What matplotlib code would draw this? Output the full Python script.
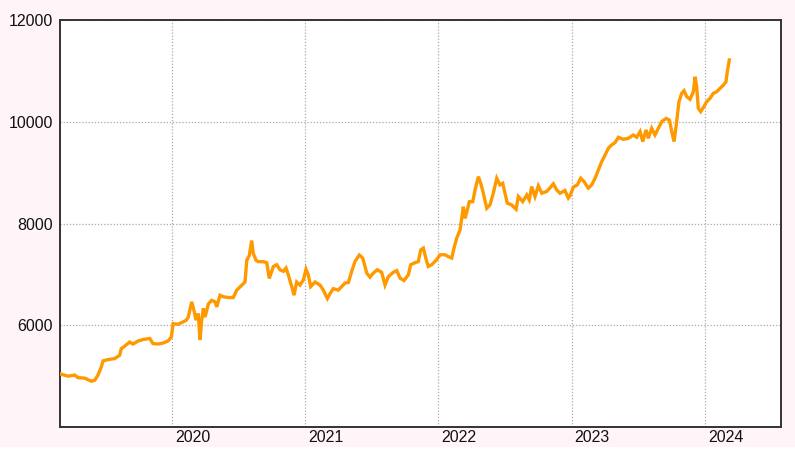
import matplotlib
matplotlib.use("Agg")
import matplotlib.pyplot as plt
import matplotlib.transforms as mtransforms

# time in decimal years
t = [2019.169, 2019.219, 2019.270, 2019.294, 2019.345, 2019.394, 2019.420, 2019.444,
     2019.469, 2019.482, 2019.520, 2019.570, 2019.607, 2019.619, 2019.645, 2019.682,
     2019.707, 2019.745, 2019.782, 2019.833, 2019.857, 2019.895, 2019.932, 2019.970,
     2019.995, 2020.008, 2020.045, 2020.083, 2020.107,
     2020.122, 2020.148, 2020.165, 2020.180, 2020.197, 2020.210, 2020.223, 2020.235,
     2020.248, 2020.273, 2020.298, 2020.323, 2020.336, 2020.360, 2020.385, 2020.423,
     2020.460, 2020.486, 2020.523, 2020.548, 2020.561, 2020.580, 2020.598, 2020.610,
     2020.631, 2020.648, 2020.685, 2020.711, 2020.730, 2020.761, 2020.786, 2020.811,
     2020.836, 2020.856, 2020.873, 2020.899,
     2020.916, 2020.936, 2020.961, 2020.986, 2021.006, 2021.023, 2021.041, 2021.074,
     2021.111, 2021.136, 2021.166, 2021.186, 2021.211, 2021.248, 2021.274, 2021.299,
     2021.324, 2021.349, 2021.374, 2021.406, 2021.432, 2021.462, 2021.486, 2021.511,
     2021.541, 2021.574, 2021.599, 2021.624, 2021.661, 2021.687, 2021.712, 2021.742,
     2021.774, 2021.792, 2021.824, 2021.849, 2021.867, 2021.887, 2021.907, 2021.924,
     2021.950, 2021.987,
     2022.012, 2022.050, 2022.074, 2022.100, 2022.117, 2022.137, 2022.162, 2022.175,
     2022.187, 2022.200, 2022.217, 2022.232, 2022.258, 2022.275, 2022.300, 2022.318,
     2022.337, 2022.363, 2022.387, 2022.412, 2022.438, 2022.462, 2022.483, 2022.500,
     2022.517, 2022.550, 2022.583, 2022.600, 2022.633, 2022.663, 2022.682, 2022.700,
     2022.725, 2022.750, 2022.776, 2022.813, 2022.838, 2022.863, 2022.888, 2022.913,
     2022.950, 2022.975,
     2022.988, 2023.013, 2023.043, 2023.068, 2023.093, 2023.125, 2023.151, 2023.176,
     2023.201, 2023.226, 2023.251, 2023.276, 2023.301, 2023.326, 2023.351, 2023.388,
     2023.426, 2023.463, 2023.489, 2023.514, 2023.534, 2023.559, 2023.576, 2023.601,
     2023.626, 2023.651, 2023.676, 2023.709, 2023.734, 2023.752, 2023.769, 2023.784,
     2023.794, 2023.806, 2023.827, 2023.844, 2023.864, 2023.889, 2023.914, 2023.927,
     2023.939, 2023.951, 2023.969, 2023.994, 2024.014, 2024.039, 2024.064, 2024.089,
     2024.114, 2024.139, 2024.159, 2024.169, 2024.184]

price = [5037, 5000, 5020, 4970, 4960, 4900, 4920, 5020,
         5180, 5300, 5325, 5345, 5410, 5540, 5590, 5670,
         5630, 5690, 5720, 5740, 5640, 5630, 5650, 5690,
         5770, 6030, 6020, 6065, 6100,
         6160, 6460, 6290, 6100, 6230, 5710, 6100, 6330,
         6160, 6420, 6490, 6460, 6360, 6590, 6560, 6545,
         6545, 6690, 6785, 6850, 7275, 7370, 7665, 7410,
         7275, 7250, 7250, 7230, 6920, 7155, 7190, 7090,
         7060, 7125, 6990, 6760,
         6590, 6850, 6790, 6890, 7100, 6990, 6760, 6850,
         6790, 6690, 6525, 6620, 6720, 6690, 6760, 6830,
         6840, 7060, 7255, 7380, 7320, 7025, 6945, 7025,
         7090, 7040, 6790, 6955, 7040, 7075, 6925, 6880,
         6990, 7190, 7230, 7250, 7480, 7515, 7300, 7155,
         7190, 7290,
         7385, 7385, 7350, 7320, 7515, 7710, 7870, 8100,
         8330, 8100, 8265, 8430, 8430, 8660, 8920, 8790,
         8595, 8300, 8365, 8595, 8890, 8760, 8790, 8595,
         8400, 8365, 8280, 8530, 8430, 8560, 8465, 8725,
         8530, 8740, 8595, 8630, 8700, 8780, 8660, 8595,
         8650, 8500,
         8545, 8715, 8760, 8890, 8825, 8695, 8760, 8890,
         9050, 9215, 9345, 9480, 9545, 9590, 9695, 9655,
         9675, 9740, 9695, 9805, 9610, 9840, 9675, 9870,
         9740, 9870, 10000, 10065, 10035, 9805, 9610, 9905,
         10135, 10395, 10560, 10610, 10495, 10440, 10590, 10885,
         10690, 10265, 10200, 10300, 10395, 10460, 10560, 10590,
         10655, 10720, 10785, 10985, 11215]

year_ticks = [2020, 2021, 2022, 2023, 2024]
year_labels = ["2020", "2021", "2022", "2023", "2024"]
value_ticks = [6000, 8000, 10000, 12000]
value_labels = ["6000", "8000", "10000", "12000"]

W, H = 795, 454
fig = plt.figure(figsize=(W / 100, H / 100), dpi=100)
fig.patch.set_facecolor("#fff4f7")
# white strip at very bottom
fig.add_artist(plt.Rectangle((0, 0), 1, 7 / H, transform=fig.transFigure,
                             facecolor="white", edgecolor="none", zorder=-1))

ax = fig.add_axes([60 / W, 1 - 427 / H, (781 - 60) / W, (427 - 20) / H])
ax.set_facecolor("white")
ax.plot(t, price, color="#ff9900", lw=2.4, solid_joinstyle="miter", zorder=3)

ax.set_xlim(2019.159, 2024.572)
ax.set_ylim(4000, 12000)
ax.set_xticks(year_ticks)
ax.set_xticklabels(year_labels)
ax.set_yticks(value_ticks)
ax.set_yticklabels(value_labels)

for lab in ax.get_xticklabels() + ax.get_yticklabels():
    lab.set_fontfamily(["Liberation Sans", "DejaVu Sans"])
    lab.set_fontsize(11.5)
    lab.set_color("#111111")

ax.tick_params(axis="both", length=0)
ax.tick_params(axis="y", pad=5)
ax.tick_params(axis="x", pad=2.5)
offset = mtransforms.ScaledTranslation(3 / 100, 0, fig.dpi_scale_trans)
for lab in ax.get_xticklabels():
    lab.set_ha("left")
    lab.set_transform(lab.get_transform() + offset)

ax.grid(True, color="#aaaaaa", linestyle=(0, (1, 1.5)), linewidth=0.9, zorder=1)
for s in ax.spines.values():
    s.set_color("#333333")
    s.set_linewidth(1.4)

fig.savefig("out.png", dpi=100, facecolor=fig.get_facecolor())
